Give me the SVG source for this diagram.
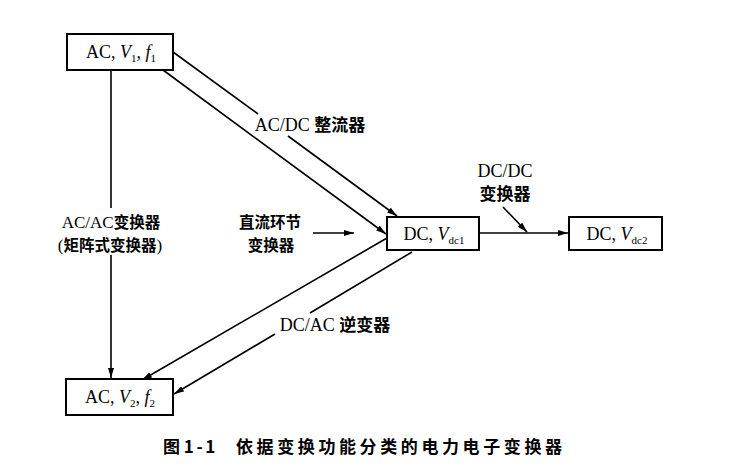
<svg xmlns="http://www.w3.org/2000/svg" width="752" height="470" viewBox="0 0 752 470">
<style>
.box{fill:#fff;stroke:#000;stroke-width:2}
.ln{fill:none;stroke:#000;stroke-width:1.6}
.t{font-family:"Liberation Serif","Noto Sans CJK SC",serif;font-size:18px;fill:#000}
.c{font-family:"Noto Sans CJK SC",sans-serif;font-weight:bold;font-size:17px}
.t2{font-family:"Liberation Serif","Noto Sans CJK SC",serif;font-size:17px;fill:#000}
.c2{font-family:"Noto Sans CJK SC",sans-serif;font-weight:bold;font-size:15.5px}
.i{font-style:italic}
.s{font-size:11px}
.cap{font-family:"Noto Sans CJK SC",sans-serif;font-weight:bold;font-size:17px;fill:#000}
</style>
<defs>
<marker id="ah" viewBox="0 0 10 6" refX="10" refY="3" markerWidth="10" markerHeight="6" markerUnits="userSpaceOnUse" orient="auto">
<path d="M0,0 L10,3 L0,6 Z" fill="#000"/>
</marker>
</defs>
<rect width="752" height="470" fill="#fff"/>
<g id="connectors">
<line class="ln" x1="111" y1="70" x2="111" y2="208"/>
<line class="ln" x1="111" y1="255" x2="111" y2="378" marker-end="url(#ah)"/>
<line class="ln" x1="173" y1="52" x2="258" y2="114"/>
<line class="ln" x1="288" y1="136" x2="397" y2="216" marker-end="url(#ah)"/>
<line class="ln" x1="163" y1="70" x2="386" y2="234" marker-end="url(#ah)"/>
<line class="ln" x1="387" y1="238" x2="142" y2="380" marker-end="url(#ah)"/>
<line class="ln" x1="412" y1="252" x2="310" y2="313"/>
<line class="ln" x1="275" y1="334" x2="174" y2="394" marker-end="url(#ah)"/>
<line class="ln" x1="479" y1="233" x2="568" y2="233" marker-end="url(#ah)"/>
<line class="ln" x1="503" y1="207" x2="527" y2="232" marker-end="url(#ah)"/>
<line class="ln" x1="313" y1="233" x2="354" y2="233" marker-end="url(#ah)"/>
</g>
<g id="node-ac1">
<rect class="box" x="67" y="34" width="106" height="36"/>
<text class="t" x="121" y="58" text-anchor="middle">AC, <tspan class="i">V</tspan><tspan class="s" dy="4">1</tspan><tspan dy="-4">, </tspan><tspan class="i">f</tspan><tspan class="s" dy="4">1</tspan></text>
</g>
<g id="node-ac2">
<rect class="box" x="66" y="379" width="107" height="36"/>
<text class="t" x="120" y="403" text-anchor="middle">AC, <tspan class="i">V</tspan><tspan class="s" dy="4">2</tspan><tspan dy="-4">, </tspan><tspan class="i">f</tspan><tspan class="s" dy="4">2</tspan></text>
</g>
<g id="node-dc1">
<rect class="box" x="387" y="217" width="92" height="33"/>
<text class="t" x="434" y="240" text-anchor="middle">DC, <tspan class="i">V</tspan><tspan class="s" dy="4">dc1</tspan></text>
</g>
<g id="node-dc2">
<rect class="box" x="569" y="217" width="93" height="33"/>
<text class="t" x="617" y="240" text-anchor="middle">DC, <tspan class="i">V</tspan><tspan class="s" dy="4">dc2</tspan></text>
</g>
<g id="labels">
<text class="t" x="310" y="131" text-anchor="middle">AC/DC <tspan class="c">整流器</tspan></text>
<text class="t" text-anchor="middle"><tspan x="505" y="177">DC/DC</tspan><tspan class="c" x="505" y="199.5">变换器</tspan></text>
<text class="t2" text-anchor="middle"><tspan x="111" y="228">AC/AC<tspan class="c2">变换器</tspan></tspan><tspan x="110" y="250.5">(<tspan class="c2">矩阵式变换器</tspan>)</tspan></text>
<text class="t2 c2" text-anchor="middle"><tspan x="270" y="228">直流环节</tspan><tspan x="271" y="250.5">变换器</tspan></text>
<text class="t" x="335" y="331" text-anchor="middle">DC/AC <tspan class="c">逆变器</tspan></text>
<text class="cap" x="163" y="453">图 <tspan letter-spacing="2.5">1-1</tspan></text>
<text class="cap" x="236" y="453" letter-spacing="3.6">依据变换功能分类的电力电子变换器</text>
</g>
</svg>
